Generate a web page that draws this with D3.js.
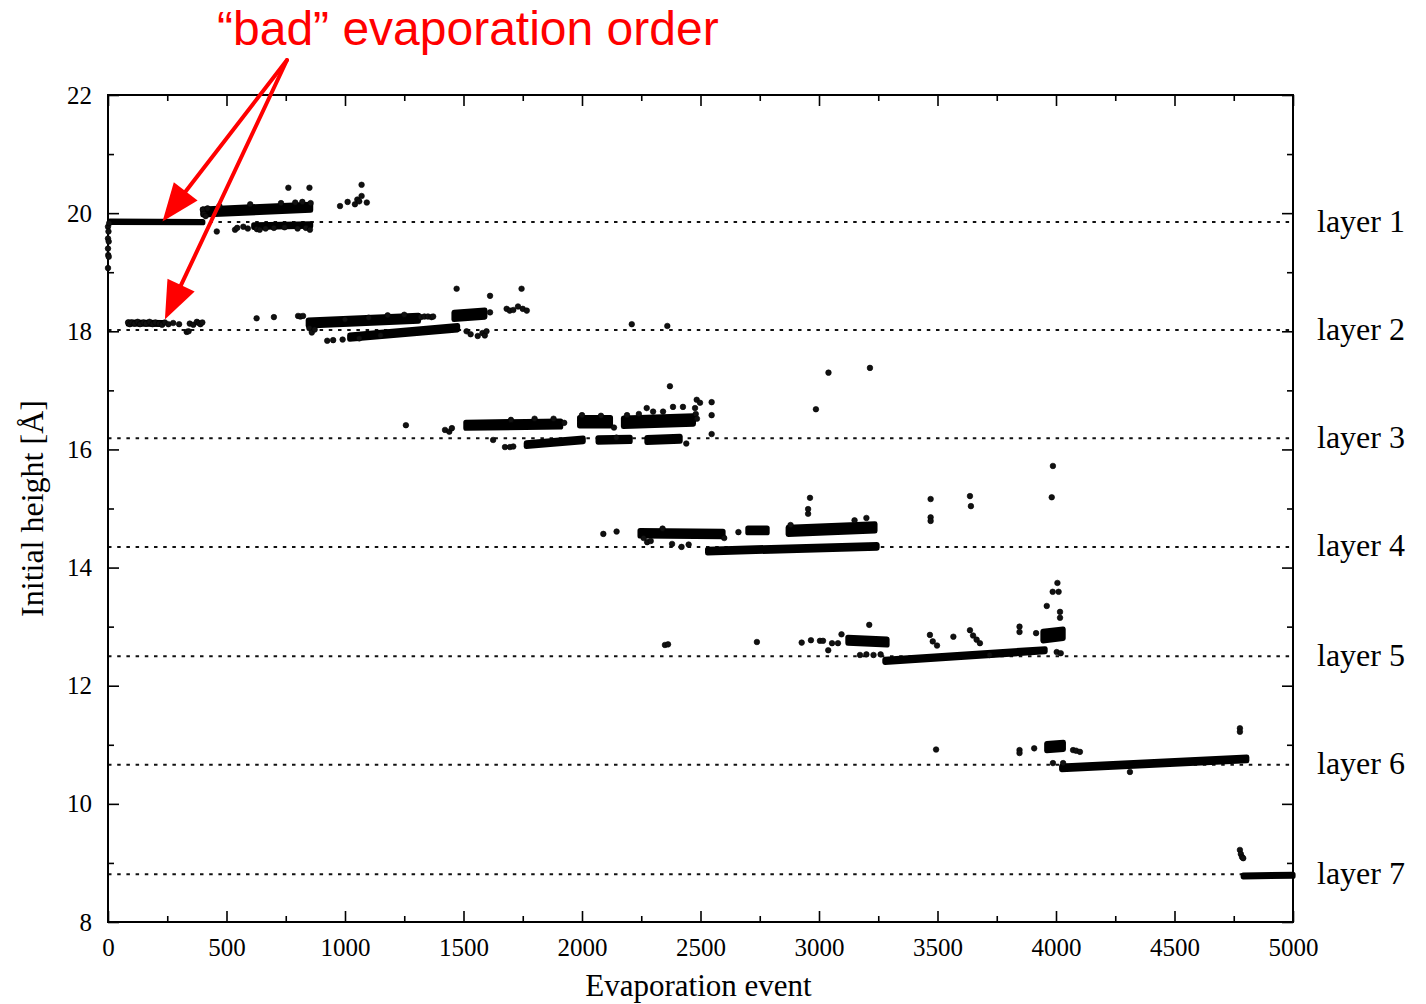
<!DOCTYPE html>
<html><head><meta charset="utf-8">
<script src="https://cdn.jsdelivr.net/npm/d3@7"></script>
<style>html,body{margin:0;padding:0;background:#fff;}svg{display:block;}</style>
</head><body>
<script>
// ---------- data ----------
const xTicks = [0,500,1000,1500,2000,2500,3000,3500,4000,4500,5000];
const xMinorTicks = [250,750,1250,1750,2250,2750,3250,3750,4250,4750];
const yTicks = [8,10,12,14,16,18,20,22];
const yMinorTicks = [9,11,13,15,17,19,21];
const layerNames = ["layer 1","layer 2","layer 3","layer 4","layer 5","layer 6","layer 7"];
const layerHeights = [19.85,18.02,16.19,14.35,12.50,10.66,8.81];
// dense bands of events: start/end event, start/end height, height spread
const bandX0 = [8,400,615,85,845,1020,1460,1510,1990,2175,1765,2068,2274,2245,2700,2870,2530,3122,3278,3945,3961,4024,4790];
const bandX1 = [400,855,855,230,1310,1475,1590,1910,2120,2470,2005,2203,2414,2595,2781,3236,3245,3287,3954,4030,4031,4805,5000];
const bandY0 = [19.855,20.02,19.78,18.14,18.14,17.90,18.26,16.41,16.47,16.46,16.08,16.16,16.16,14.58,14.63,14.62,14.28,12.77,12.42,12.84,10.96,10.61,8.78];
const bandY1 = [19.848,20.10,19.80,18.13,18.22,18.06,18.30,16.43,16.47,16.50,16.16,16.17,16.18,14.57,14.63,14.68,14.36,12.74,12.60,12.88,10.98,10.76,8.79];
const bandSpread = [0.02,0.1,0.04,0.03,0.1,0.07,0.12,0.1,0.14,0.14,0.06,0.07,0.08,0.09,0.08,0.12,0.06,0.1,0.05,0.16,0.12,0.06,0.03];
// individual events [event, height]
const points = [
 [0,19.77],[2,19.69],[0,19.57],[3,19.52],[0,19.40],[1,19.29],[3,19.26],[0,19.07],[5,19.83],
 [400,20.06],[405,19.99],[412,19.95],[420,20.08],[459,19.69],[470,20.12],[536,19.72],[545,19.75],[571,19.77],[590,19.74],[600,20.15],[628,19.73],[640,19.72],[665,19.74],[700,19.75],[730,20.17],[745,19.76],[761,20.43],[790,20.18],[800,19.74],[820,20.19],[835,19.75],[850,20.43],[852,19.72],[855,20.17],[979,20.12],[1011,20.19],[1042,20.15],[1052,20.23],[1060,20.2],[1070,20.29],[1070,20.48],[1092,20.18],
 [85,18.15],[92,18.12],[100,18.15],[112,18.13],[125,18.16],[135,18.12],[150,18.15],[160,18.13],[175,18.16],[188,18.12],[200,18.15],[215,18.13],[228,18.11],[240,18.15],[255,18.12],[275,18.14],[300,18.12],[332,17.99],[340,18.0],[345,18.13],[360,18.11],[375,18.16],[383,18.14],[390,18.12],[398,18.15],
 [627,18.22],[700,18.24],[802,18.26],[812,18.25],[823,18.26],[850,18.05],[860,17.98],[872,18.03],[925,17.84],[950,17.85],[990,17.86],[1000,18.2],[1100,18.23],[1180,18.27],[1250,18.28],[1060,17.88],[1150,17.93],[1320,18.24],[1335,18.25],[1350,18.25],[1365,18.24],[1372,18.25],[1471,18.72],[1513,18.0],[1530,17.95],[1560,17.92],[1580,17.97],[1590,17.93],[1597,18.0],[1612,18.6],[1612,18.32],[1682,18.38],[1695,18.35],[1710,18.36],[1730,18.42],[1745,18.72],[1750,18.38],[1767,18.35],[2210,18.12],[2360,18.09],
 [1257,16.41],[1422,16.33],[1440,16.30],[1451,16.36],[1625,16.16],[1675,16.04],[1696,16.04],[1710,16.05],[1700,16.5],[1800,16.52],[1880,16.52],[1925,16.45],[2000,16.58],[2080,16.57],[2135,16.37],[2145,16.2],[2190,16.58],[2240,16.6],[2273,16.70],[2300,16.64],[2342,16.64],[2371,17.07],[2384,16.72],[2426,16.72],[2440,16.1],[2477,16.7],[2480,16.6],[2485,16.52],[2484,16.84],[2498,16.79],[2547,16.80],[2547,16.58],[2547,16.26],[2987,16.68],[3040,17.30],[3215,17.38],
 [2090,14.57],[2146,14.61],[2260,14.5],[2275,14.43],[2290,14.45],[2340,14.66],[2380,14.40],[2420,14.35],[2450,14.39],[2600,14.5],[2660,14.6],[2954,14.91],[2954,14.99],[2962,15.18],[2880,14.72],[3150,14.8],[3200,14.84],[3471,15.16],[3471,14.85],[3471,14.79],[3637,15.21],[3641,15.04],[3982,15.19],[3987,15.72],
 [2350,12.69],[2363,12.70],[2738,12.74],[2927,12.73],[2966,12.77],[3004,12.76],[3017,12.76],[3039,12.60],[3055,12.72],[3080,12.72],[3095,12.87],[3212,13.03],[3173,12.52],[3200,12.53],[3230,12.52],[3260,12.53],[3468,12.86],[3480,12.75],[3498,12.68],[3567,12.83],[3637,12.94],[3650,12.85],[3665,12.78],[3679,12.72],[3720,12.52],[3846,13.0],[3846,12.91],[3916,12.89],[3961,13.35],[3986,13.59],[4006,13.74],[4011,13.59],[4017,13.25],[4017,13.15],[4003,12.57],[4020,12.55],
 [3494,10.92],[3846,10.91],[3846,10.86],[3908,10.94],[3987,10.69],[4030,10.69],[4072,10.91],[4085,10.9],[4101,10.88],[4312,10.54],[4776,11.28],[4776,11.22],
 [4776,9.22],[4780,9.15],[4785,9.10],[4790,9.08]
];
const titleText = "\u201Cbad\u201D evaporation order";
const xLabel = "Evaporation event";
const yLabel = "Initial height [\u00C5]";
// arrows point at the two "bad" clusters: [event, height]
const arrowTargets = [[230,19.86],[240,18.2]];

// ---------- drawing ----------
const W = 1426, H = 1004;
const M = {left:108, top:95, right:1293, bottom:922};
const svg = d3.select("body").append("svg").attr("width",W).attr("height",H);
const x = d3.scaleLinear().domain([0,5000]).range([M.left,M.right]);
const y = d3.scaleLinear().domain([8,22]).range([M.bottom,M.top]);
const serif = "'Liberation Serif','Times New Roman',serif";

// layer dotted lines
svg.append("g").selectAll("line").data(layerHeights).join("line")
  .attr("x1",x(0)).attr("x2",x(5000))
  .attr("y1",d=>y(d)).attr("y2",d=>y(d))
  .attr("stroke","#111").attr("stroke-width",2).attr("stroke-dasharray","3.5,5.7");

// axes
function styleAxis(g){ g.select(".domain").remove(); g.selectAll("line").attr("stroke","#000").attr("stroke-width",1.6);
  g.selectAll("text").attr("font-family",serif).attr("font-size",25).attr("fill","#000"); }
svg.append("g").attr("transform",`translate(0,${M.bottom})`)
  .call(d3.axisBottom(x).tickValues(xTicks).tickSizeInner(-11).tickSizeOuter(0).tickPadding(16).tickFormat(d3.format("d"))).call(styleAxis);
svg.append("g").attr("transform",`translate(0,${M.bottom})`)
  .call(d3.axisBottom(x).tickValues(xMinorTicks).tickSizeInner(-6).tickSizeOuter(0).tickFormat("")).call(styleAxis);
svg.append("g").attr("transform",`translate(0,${M.top})`)
  .call(d3.axisTop(x).tickValues(xTicks).tickSizeInner(-11).tickSizeOuter(0).tickFormat("")).call(styleAxis);
svg.append("g").attr("transform",`translate(0,${M.top})`)
  .call(d3.axisTop(x).tickValues(xMinorTicks).tickSizeInner(-6).tickSizeOuter(0).tickFormat("")).call(styleAxis);
svg.append("g").attr("transform",`translate(${M.left},0)`)
  .call(d3.axisLeft(y).tickValues(yTicks).tickSizeInner(-11).tickSizeOuter(0).tickPadding(16).tickFormat(d3.format("d"))).call(styleAxis);
svg.append("g").attr("transform",`translate(${M.left},0)`)
  .call(d3.axisLeft(y).tickValues(yMinorTicks).tickSizeInner(-6).tickSizeOuter(0).tickFormat("")).call(styleAxis);
svg.append("g").attr("transform",`translate(${M.right},0)`)
  .call(d3.axisRight(y).tickValues(yTicks).tickSizeInner(-11).tickSizeOuter(0).tickFormat("")).call(styleAxis);
svg.append("g").attr("transform",`translate(${M.right},0)`)
  .call(d3.axisRight(y).tickValues(yMinorTicks).tickSizeInner(-6).tickSizeOuter(0).tickFormat("")).call(styleAxis);

// frame
svg.append("rect").attr("x",M.left).attr("y",M.top).attr("width",M.right-M.left).attr("height",M.bottom-M.top)
  .attr("fill","none").attr("stroke","#000").attr("stroke-width",2);

// bands
const bands = bandX0.map((v,i)=>({x0:v,x1:bandX1[i],y0:bandY0[i],y1:bandY1[i],s:bandSpread[i]}));
svg.append("g").selectAll("path").data(bands).join("path")
  .attr("d",b=>{const h=b.s/2; return d3.line()([[x(b.x0),y(b.y0+h)],[x(b.x1),y(b.y1+h)],[x(b.x1),y(b.y1-h)],[x(b.x0),y(b.y0-h)]])+"Z";})
  .attr("fill","#000").attr("stroke","#000").attr("stroke-width",5.2).attr("stroke-linejoin","round");

// points
svg.append("g").selectAll("circle").data(points).join("circle")
  .attr("cx",d=>x(d[0])).attr("cy",d=>y(d[1])).attr("r",2.8)
  .attr("fill","#111").attr("stroke","#000").attr("stroke-width",0.6);

// layer labels
svg.append("g").selectAll("text").data(layerNames).join("text")
  .attr("x",M.right+24).attr("y",(d,i)=>y(layerHeights[i]))
  .attr("dy","0.3em").attr("font-family",serif).attr("font-size",32).attr("fill","#000").text(d=>d);

// axis titles
svg.append("text").attr("x",(M.left+M.right)/2 - 2).attr("y",996).attr("text-anchor","middle")
  .attr("font-family",serif).attr("font-size",31).attr("fill","#000").text(xLabel);
svg.append("text").attr("transform",`translate(43,${(M.top+M.bottom)/2}) rotate(-90)`).attr("text-anchor","middle")
  .attr("font-family",serif).attr("font-size",32).attr("fill","#000").text(yLabel);

// title annotation
svg.append("text").attr("x",217).attr("y",45).attr("font-family","'Liberation Sans',Arial,sans-serif")
  .attr("font-size",48).attr("fill","#ff0000").text(titleText);

// arrows
const start = [287,60];
const ag = svg.append("g");
arrowTargets.forEach(t=>{
  const tx = x(t[0]), ty = y(t[1]);
  const dx = tx-start[0], dy = ty-start[1], L = Math.hypot(dx,dy), ux=dx/L, uy=dy/L;
  const headL = 38, headW = 15;
  const bx = tx-ux*headL, by = ty-uy*headL;
  ag.append("line").attr("x1",start[0]).attr("y1",start[1]).attr("x2",bx+ux*4).attr("y2",by+uy*4)
    .attr("stroke","#ff0000").attr("stroke-width",4).attr("stroke-linecap","round");
  ag.append("path").attr("d",`M${tx},${ty}L${bx-uy*headW},${by+ux*headW}L${bx+uy*headW},${by-ux*headW}Z`)
    .attr("fill","#ff0000");
});
</script>
</body></html>
